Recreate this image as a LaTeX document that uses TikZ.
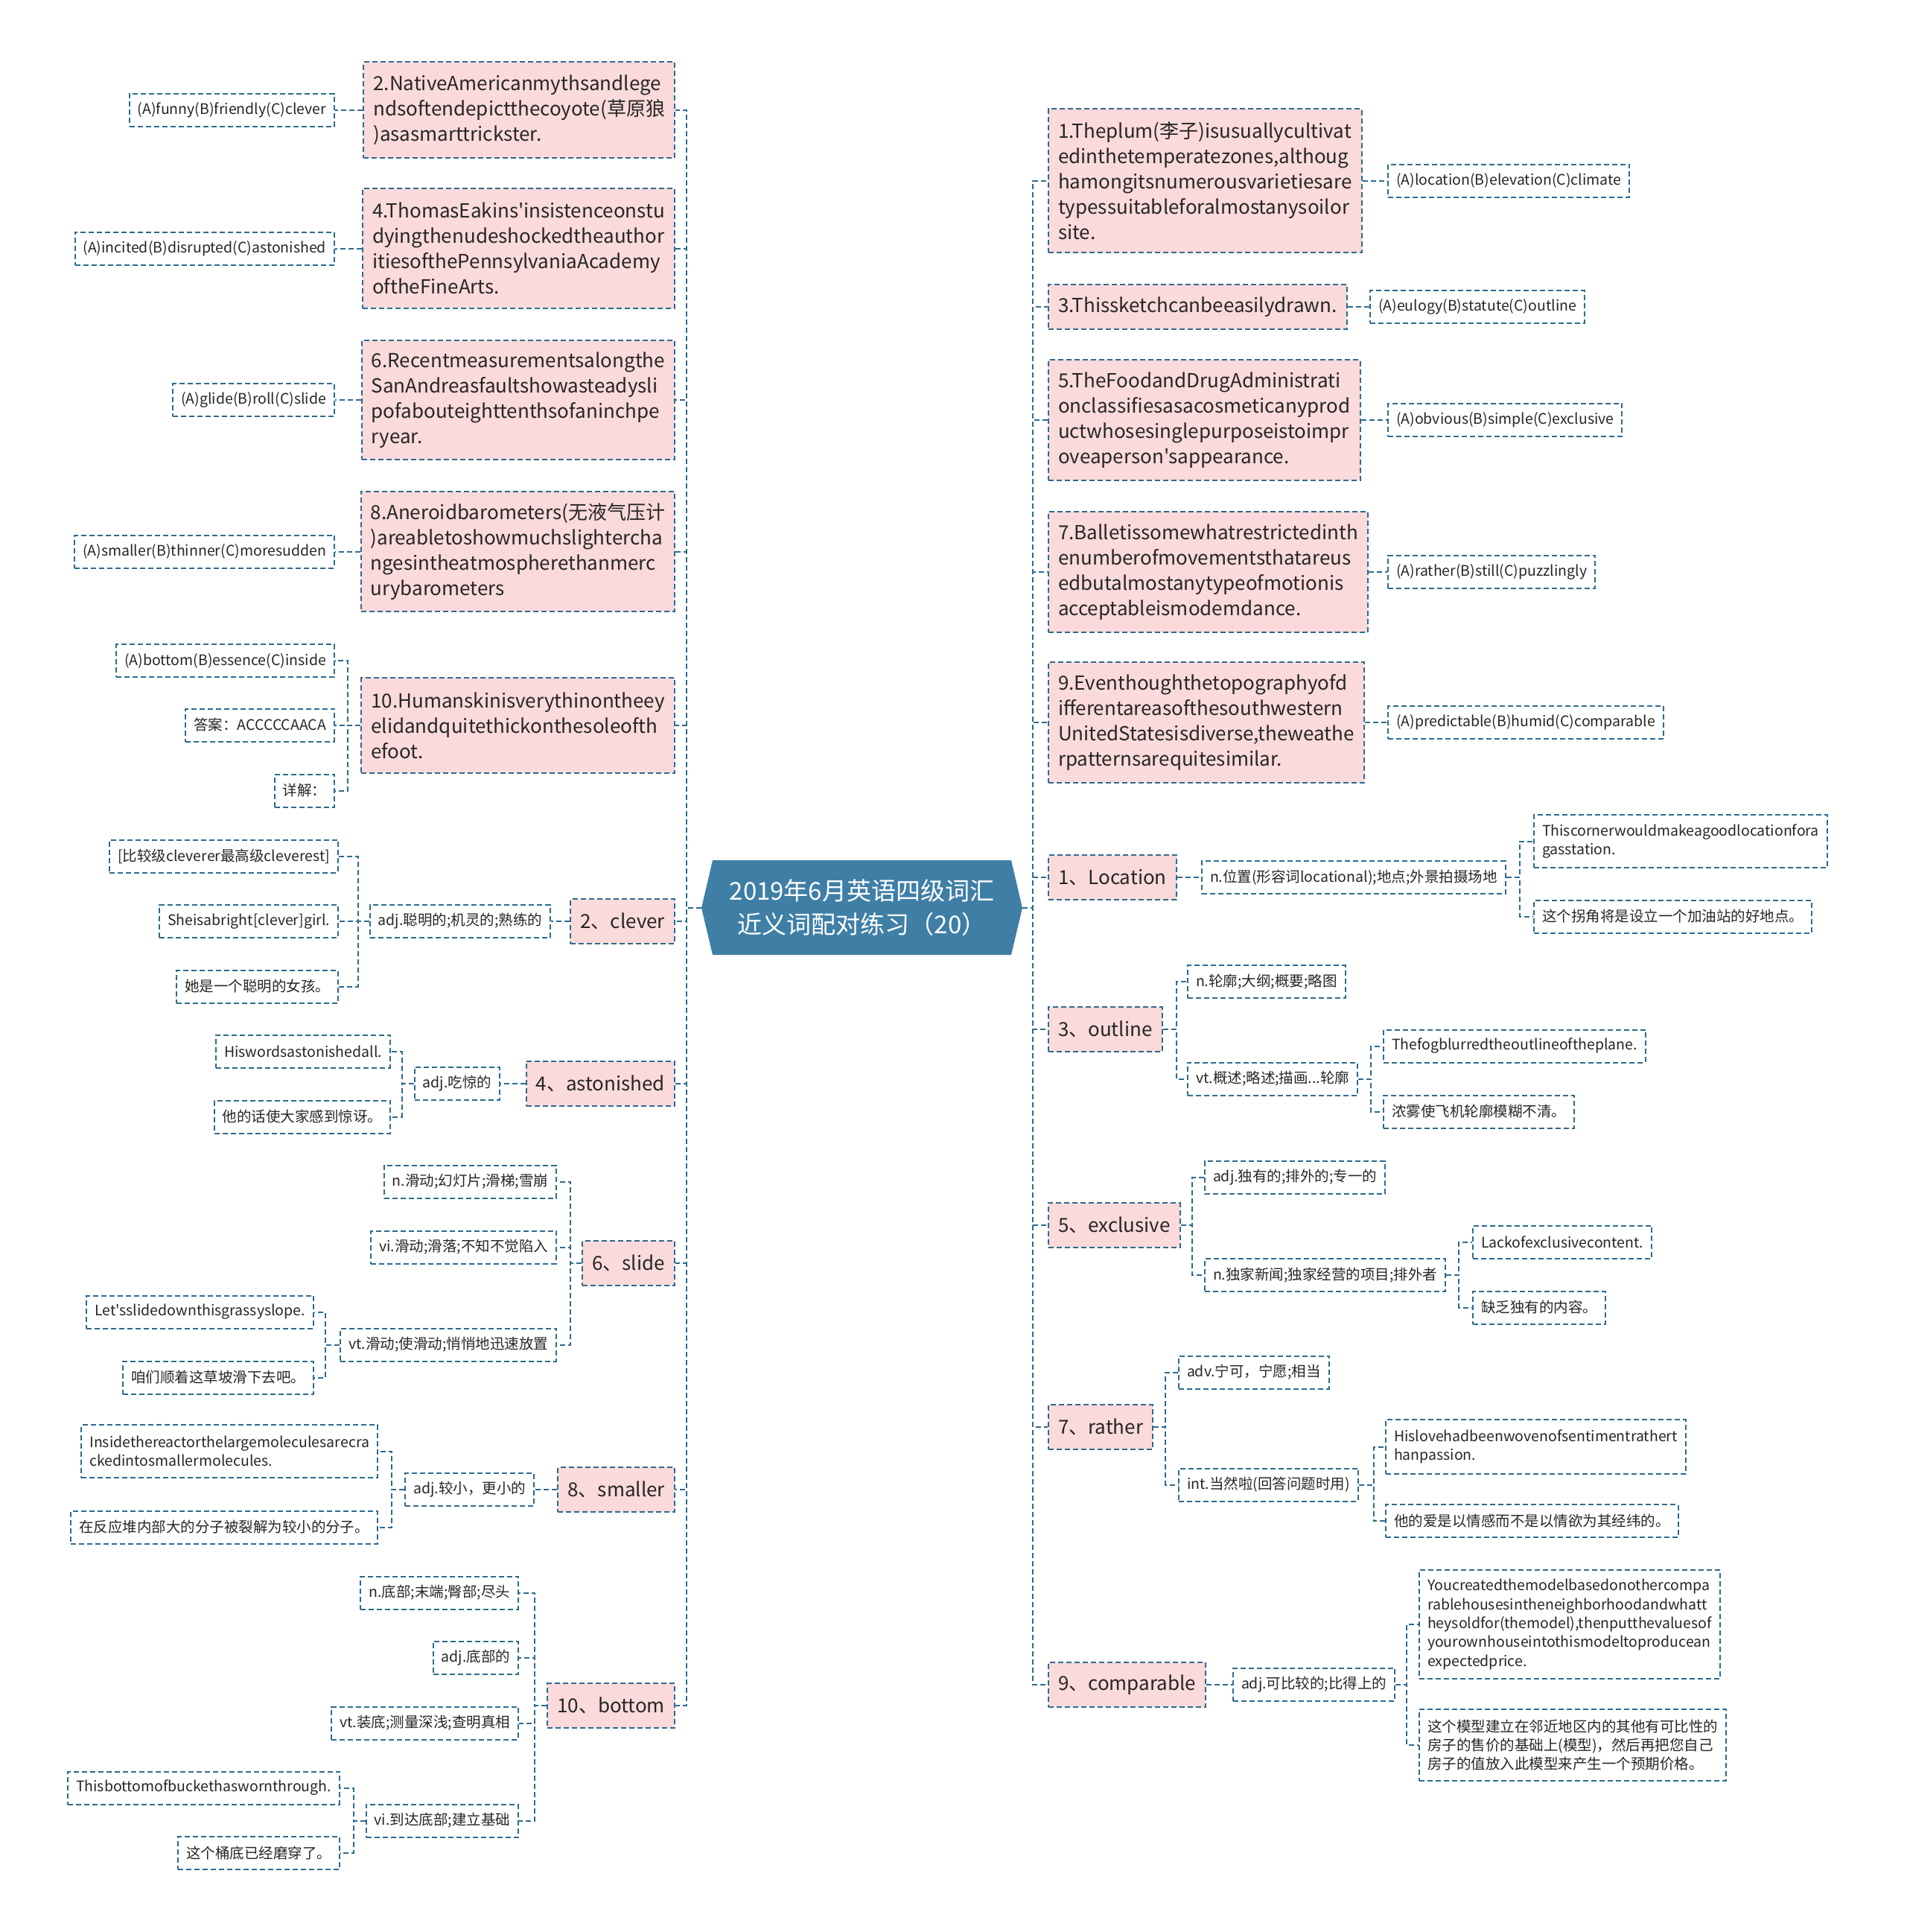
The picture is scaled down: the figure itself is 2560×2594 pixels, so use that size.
\documentclass[tikz,border=0pt]{standalone}
\usepackage{fontspec}
\newfontfamily\cjk{Noto Sans CJK SC}
\newcommand\fQ{\cjk\fontsize{26}{34}\selectfont}
\newcommand\fL{\cjk\fontsize{19.5}{25.3}\selectfont}
\newcommand\fR{\cjk\fontsize{33}{45}\selectfont}
\definecolor{lineC}{HTML}{2E6A8E}
\definecolor{pinkC}{HTML}{FADADA}
\definecolor{rootC}{HTML}{3F7FA6}
\definecolor{txtC}{HTML}{262626}
\tikzset{
  conn/.style={draw=lineC, line width=2pt, dash pattern=on 7pt off 4pt},
  qbox/.style={conn, fill=pinkC, text=txtC, font=\fQ, align=left, inner xsep=13pt, inner ysep=0pt, minimum height=#1},
  qbox/.default=60,
  leaf/.style={conn, fill=white, text=txtC, font=\fL, align=left, inner xsep=11pt, inner ysep=0pt, minimum height=#1},
  leaf/.default=44,
}
\begin{document}
\begin{tikzpicture}[x=1pt,y=-1pt]
\useasboundingbox[fill=white] (0,0) rectangle (2560,2594);
% root
\fill[rootC] (942,1219) -- (957,1155) -- (1358,1155) -- (1373,1219) -- (1358,1282) -- (957,1282) -- cycle;
\node[minimum width=431, minimum height=127, inner sep=0, text=white, font=\fR, align=center] (root) at (1157.5,1219) {2019年6月英语四级词汇\\近义词配对练习（20）};

% ---------- left side ----------
\node[qbox=129, anchor=east] (q2) at (907,147.5) {2.NativeAmericanmythsandlege\\ndsoftendepictthecoyote(草原狼\\)asasmarttrickster.};
\node[qbox=161, anchor=east] (q4) at (907,333.5) {4.ThomasEakins'insistenceonstu\\dyingthenudeshockedtheauthor\\itiesofthePennsylvaniaAcademy\\oftheFineArts.};
\node[qbox=160, anchor=east] (q6) at (907,537) {6.Recentmeasurementsalongthe\\SanAndreasfaultshowasteadysli\\pofabouteighttenthsofaninchpe\\ryear.};
\node[qbox=161, anchor=east] (q8) at (907,740.5) {8.Aneroidbarometers(无液气压计\\)areabletoshowmuchslightercha\\ngesintheatmospherethanmerc\\urybarometers};
\node[qbox=128, anchor=east] (q10) at (907,974) {10.Humanskinisverythinontheey\\elidandquitethickonthesoleofth\\efoot.};

\node[leaf, anchor=east] (a2) at (450,147.5) {(A)funny(B)friendly(C)clever};
\node[leaf, anchor=east] (a4) at (450,333.5) {(A)incited(B)disrupted(C)astonished};
\node[leaf, anchor=east] (a6) at (450,537) {(A)glide(B)roll(C)slide};
\node[leaf, anchor=east] (a8) at (450,740.5) {(A)smaller(B)thinner(C)moresudden};
\node[leaf, anchor=east] (a10a) at (450,887) {(A)bottom(B)essence(C)inside};
\node[leaf, anchor=east] (a10b) at (450,973.5) {答案：ACCCCCAACA};
\node[leaf, anchor=east] (a10c) at (450,1061.5) {详解：};

\node[qbox, anchor=east] (w2) at (907,1237) {2、clever};
\node[leaf, anchor=east] (w2a) at (740,1237) {adj.聪明的;机灵的;熟练的};
\node[leaf, anchor=east] (w2a1) at (455,1149.5) {[比较级cleverer最高级cleverest]};
\node[leaf, anchor=east] (w2a2) at (455,1237) {Sheisabright[clever]girl.};
\node[leaf, anchor=east] (w2a3) at (455,1324.5) {她是一个聪明的女孩。};

\node[qbox, anchor=east] (w4) at (907,1455) {4、astonished};
\node[leaf, anchor=east] (w4a) at (672,1455) {adj.吃惊的};
\node[leaf, anchor=east] (w4a1) at (525,1411.5) {Hiswordsastonishedall.};
\node[leaf, anchor=east] (w4a2) at (525,1499.5) {他的话使大家感到惊讶。};

\node[qbox, anchor=east] (w6) at (907,1696) {6、slide};
\node[leaf, anchor=east] (w6a) at (748,1586.5) {n.滑动;幻灯片;滑梯;雪崩};
\node[leaf, anchor=east] (w6b) at (748,1674.5) {vi.滑动;滑落;不知不觉陷入};
\node[leaf, anchor=east] (w6c) at (748,1805.5) {vt.滑动;使滑动;悄悄地迅速放置};
\node[leaf, anchor=east] (w6c1) at (422,1761.5) {Let'sslidedownthisgrassyslope.};
\node[leaf, anchor=east] (w6c2) at (422,1849.5) {咱们顺着这草坡滑下去吧。};

\node[qbox, anchor=east] (w8) at (907,2000) {8、smaller};
\node[leaf, anchor=east] (w8a) at (718,2000) {adj.较小，更小的};
\node[leaf=71, anchor=east] (w8a1) at (508,1948.5) {Insidethereactorthelargemoleculesarecra\\ckedintosmallermolecules.};
\node[leaf, anchor=east] (w8a2) at (508,2050.5) {在反应堆内部大的分子被裂解为较小的分子。};

\node[qbox, anchor=east] (w10) at (907,2290) {10、bottom};
\node[leaf, anchor=east] (w10a) at (697,2138.5) {n.底部;末端;臀部;尽头};
\node[leaf, anchor=east] (w10b) at (697,2225.5) {adj.底部的};
\node[leaf, anchor=east] (w10c) at (697,2313.5) {vt.装底;测量深浅;查明真相};
\node[leaf, anchor=east] (w10d) at (697,2444.5) {vi.到达底部;建立基础};
\node[leaf, anchor=east] (w10d1) at (457,2400.5) {Thisbottomofbuckethaswornthrough.};
\node[leaf, anchor=east] (w10d2) at (457,2488) {这个桶底已经磨穿了。};

% ---------- right side ----------
\node[qbox=193, anchor=west] (q1) at (1407,242.5) {1.Theplum(李子)isusuallycultivat\\edinthetemperatezones,althoug\\hamongitsnumerousvarietiesare\\typessuitableforalmostanysoilor\\site.};
\node[qbox, anchor=west] (q3) at (1407,412) {3.Thissketchcanbeeasilydrawn.};
\node[qbox=162, anchor=west] (q5) at (1407,564) {5.TheFoodandDrugAdministrati\\onclassifiesasacosmeticanyprod\\uctwhosesinglepurposeistoimpr\\oveaperson'sappearance.};
\node[qbox=162, anchor=west] (q7) at (1407,768) {7.Balletissomewhatrestrictedinth\\enumberofmovementsthatareus\\edbutalmostanytypeofmotionis\\acceptableismodemdance.};
\node[qbox=162, anchor=west] (q9) at (1407,970) {9.Eventhoughthetopographyofd\\ifferentareasofthesouthwestern\\UnitedStatesisdiverse,theweathe\\rpatternsarequitesimilar.};

\node[leaf, anchor=west] (b1) at (1863,242.5) {(A)location(B)elevation(C)climate};
\node[leaf, anchor=west] (b3) at (1839,412) {(A)eulogy(B)statute(C)outline};
\node[leaf, anchor=west] (b5) at (1863,564) {(A)obvious(B)simple(C)exclusive};
\node[leaf, anchor=west] (b7) at (1863,768) {(A)rather(B)still(C)puzzlingly};
\node[leaf, anchor=west] (b9) at (1863,970) {(A)predictable(B)humid(C)comparable};

\node[qbox, anchor=west] (r1) at (1407,1178) {1、Location};
\node[leaf, anchor=west] (r1a) at (1613,1178) {n.位置(形容词locational);地点;外景拍摄场地};
\node[leaf=71, anchor=west] (r1a1) at (2059,1129.5) {Thiscornerwouldmakeagoodlocationfora\\gasstation.};
\node[leaf, anchor=west] (r1a2) at (2059,1230.5) {这个拐角将是设立一个加油站的好地点。};

\node[qbox, anchor=west] (r3) at (1407,1382) {3、outline};
\node[leaf, anchor=west] (r3a) at (1594,1318) {n.轮廓;大纲;概要;略图};
\node[leaf, anchor=west] (r3b) at (1594,1448.5) {vt.概述;略述;描画...轮廓};
\node[leaf, anchor=west] (r3b1) at (1857,1404.5) {Thefogblurredtheoutlineoftheplane.};
\node[leaf, anchor=west] (r3b2) at (1857,1492.5) {浓雾使飞机轮廓模糊不清。};

\node[qbox, anchor=west] (r5) at (1407,1645) {5、exclusive};
\node[leaf, anchor=west] (r5a) at (1617,1581) {adj.独有的;排外的;专一的};
\node[leaf, anchor=west] (r5b) at (1617,1712) {n.独家新闻;独家经营的项目;排外者};
\node[leaf, anchor=west] (r5b1) at (1977,1667.5) {Lackofexclusivecontent.};
\node[leaf, anchor=west] (r5b2) at (1977,1755.5) {缺乏独有的内容。};

\node[qbox, anchor=west] (r7) at (1407,1916) {7、rather};
\node[leaf, anchor=west] (r7a) at (1582,1842.5) {adv.宁可，宁愿;相当};
\node[leaf, anchor=west] (r7b) at (1582,1993.5) {int.当然啦(回答问题时用)};
\node[leaf=73, anchor=west] (r7b1) at (1860,1942.5) {Hislovehadbeenwovenofsentimentrathert\\hanpassion.};
\node[leaf, anchor=west] (r7b2) at (1860,2042) {他的爱是以情感而不是以情欲为其经纬的。};

\node[qbox, anchor=west] (r9) at (1407,2262) {9、comparable};
\node[leaf, anchor=west] (r9a) at (1655,2262) {adj.可比较的;比得上的};
\node[leaf=146, anchor=west] (r9a1) at (1905,2181) {Youcreatedthemodelbasedonothercompa\\rablehousesintheneighborhoodandwhatt\\heysoldfor(themodel),thenputthevaluesof\\yourownhouseintothismodeltoproducean\\expectedprice.};
\node[leaf=96, anchor=west] (r9a2) at (1905,2343) {这个模型建立在邻近地区内的其他有可比性的\\房子的售价的基础上(模型)，然后再把您自己\\房子的值放入此模型来产生一个预期价格。};

% ---------- connectors ----------
\foreach \c in {q2,q4,q6,q8,q10,w2,w4,w6,w8,w10}
  \draw[conn] (root.west) -- ++(-20,0) |- (\c.east);
\foreach \c in {q1,q3,q5,q7,q9,r1,r3,r5,r7,r9}
  \draw[conn] (root.east) -- ++(14,0) |- (\c.west);

\draw[conn] (q2.west) -- (a2.east);
\draw[conn] (q4.west) -- (a4.east);
\draw[conn] (q6.west) -- (a6.east);
\draw[conn] (q8.west) -- (a8.east);
\foreach \c in {a10a,a10b,a10c}
  \draw[conn] (q10.west) -- ++(-17,0) |- (\c.east);

\draw[conn] (w2.west) -- (w2a.east);
\foreach \c in {w2a1,w2a2,w2a3}
  \draw[conn] (w2a.west) -- ++(-15,0) |- (\c.east);
\draw[conn] (w4.west) -- (w4a.east);
\foreach \c in {w4a1,w4a2}
  \draw[conn] (w4a.west) -- ++(-16,0) |- (\c.east);
\foreach \c in {w6a,w6b,w6c}
  \draw[conn] (w6.west) -- ++(-15,0) |- (\c.east);
\foreach \c in {w6c1,w6c2}
  \draw[conn] (w6c.west) -- ++(-19,0) |- (\c.east);
\draw[conn] (w8.west) -- (w8a.east);
\foreach \c in {w8a1,w8a2}
  \draw[conn] (w8a.west) -- ++(-17,0) |- (\c.east);
\foreach \c in {w10a,w10b,w10c,w10d}
  \draw[conn] (w10.west) -- ++(-16,0) |- (\c.east);
\foreach \c in {w10d1,w10d2}
  \draw[conn] (w10d.west) -- ++(-16,0) |- (\c.east);

\draw[conn] (q1.east) -- (b1.west);
\draw[conn] (q3.east) -- (b3.west);
\draw[conn] (q5.east) -- (b5.west);
\draw[conn] (q7.east) -- (b7.west);
\draw[conn] (q9.east) -- (b9.west);

\draw[conn] (r1.east) -- (r1a.west);
\foreach \c in {r1a1,r1a2}
  \draw[conn] (r1a.east) -- ++(18,0) |- (\c.west);
\foreach \c in {r3a,r3b}
  \draw[conn] (r3.east) -- ++(18,0) |- (\c.west);
\foreach \c in {r3b1,r3b2}
  \draw[conn] (r3b.east) -- ++(17,0) |- (\c.west);
\foreach \c in {r5a,r5b}
  \draw[conn] (r5.east) -- ++(15,0) |- (\c.west);
\foreach \c in {r5b1,r5b2}
  \draw[conn] (r5b.east) -- ++(17,0) |- (\c.west);
\foreach \c in {r7a,r7b}
  \draw[conn] (r7.east) -- ++(16,0) |- (\c.west);
\foreach \c in {r7b1,r7b2}
  \draw[conn] (r7b.east) -- ++(20,0) |- (\c.west);
\draw[conn] (r9.east) -- (r9a.west);
\foreach \c in {r9a1,r9a2}
  \draw[conn] (r9a.east) -- ++(15,0) |- (\c.west);
\end{tikzpicture}
\end{document}
